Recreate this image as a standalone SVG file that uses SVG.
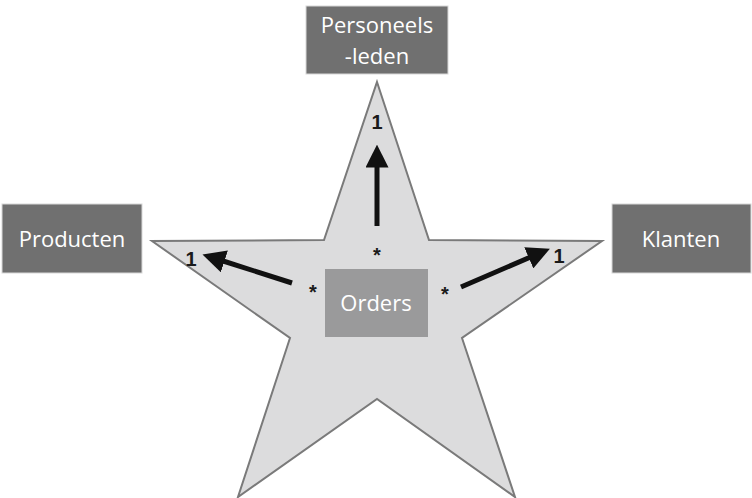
<svg xmlns="http://www.w3.org/2000/svg" width="752" height="498" viewBox="0 0 752 498">
<style>
.box{fill:#707070;stroke:#d8d8d8;stroke-width:1}
.bt{font-family:"Open Sans","Liberation Sans",sans-serif;font-size:22px;fill:#ffffff;text-anchor:middle}
.lbl{font-family:"Liberation Sans",Arial,sans-serif;font-size:20px;font-weight:bold;fill:#1a1a1a;text-anchor:middle}
.arr{stroke:#111;stroke-width:5;fill:none;marker-end:url(#ah)}
</style>
<defs>
<marker id="ah" viewBox="0 0 10 10" refX="2" refY="5" markerWidth="4.6" markerHeight="4.6" orient="auto" markerUnits="strokeWidth">
<path d="M0,0 L10,5 L0,10 z" fill="#111"/>
</marker>
</defs>
<rect width="752" height="498" fill="#ffffff"/>
<g id="star">
<polygon points="377,82 429,240 602,241 462,338 515,497 377,399 238,497 290,338 152,241 324,240" fill="#dcdcdd" stroke="#7a7a7a" stroke-width="2" stroke-linejoin="miter"/>
</g>
<g id="personeelsleden">
<rect class="box" x="306" y="6" width="142" height="68"/>
<text class="bt" x="377" y="33">Personeels</text>
<text class="bt" x="377" y="64">-leden</text>
</g>
<g id="producten">
<rect class="box" x="2" y="204" width="140" height="69"/>
<text class="bt" x="72" y="247">Producten</text>
</g>
<g id="klanten">
<rect class="box" x="612" y="204" width="139" height="69"/>
<text class="bt" x="681" y="247">Klanten</text>
</g>
<g id="orders">
<rect x="325" y="269" width="103" height="68" fill="#9a9a9b"/>
<text class="bt" x="376" y="311">Orders</text>
</g>
<g id="connectors">
<line class="arr" x1="377" y1="226" x2="377" y2="163"/>
<line class="arr" x1="292" y1="283" x2="220" y2="260"/>
<line class="arr" x1="461" y1="287" x2="533" y2="256"/>
</g>
<g id="labels">
<text class="lbl" x="377" y="129">1</text>
<text class="lbl" x="377" y="262">*</text>
<text class="lbl" x="191" y="266">1</text>
<text class="lbl" x="313" y="299">*</text>
<text class="lbl" x="445" y="301">*</text>
<text class="lbl" x="559" y="263">1</text>
</g>
</svg>
